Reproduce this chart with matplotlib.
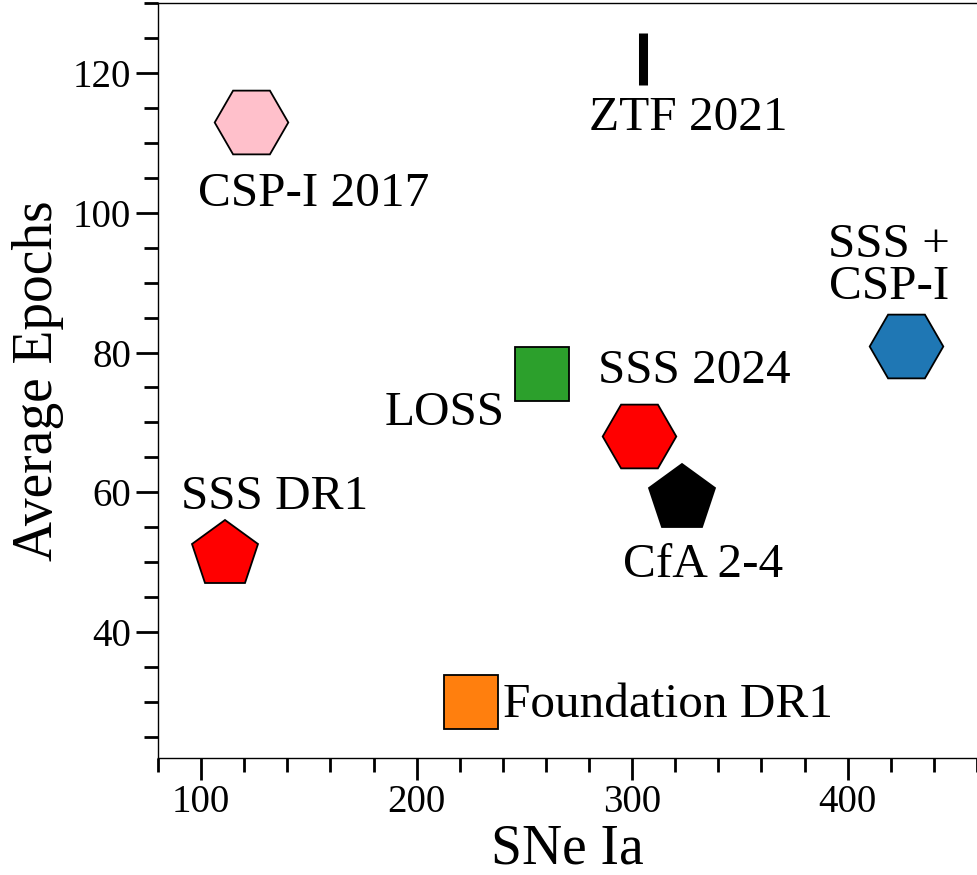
import matplotlib
matplotlib.use("Agg")
import matplotlib.pyplot as plt

plt.rcParams['font.family'] = ['Liberation Serif', 'DejaVu Serif']

# Survey sizes (number of SNe Ia) and average photometric epochs
surveys = ["CSP-I 2017", "ZTF 2021", "SSS +\nCSP-I", "LOSS", "SSS 2024",
           "CfA 2-4", "SSS DR1", "Foundation DR1"]
n_sne = [123, 305, 427, 258, 303, 323, 111, 225]
avg_epochs = [113, 122, 81, 77, 68, 59, 51, 30]

# Marker styling per survey
markers = ["H", "|", "H", "s", "H", "p", "p", "s"]
colors = ["#FFC0CB", "black", "#1F77B4", "#2CA02C", "#FF0000", "black", "#FF0000", "#FF7F0E"]
sizes = [53, 37, 53, 39, 53, 50, 50, 39]

# Label anchor points (data coordinates) and horizontal alignment
label_x = [152, 326, 419, 213, 329, 333, 134, 240]
label_y = [101, 111.9, 87.6, 69.7, 75.7, 47.9, 57.6, 27.9]
label_ha = ["center", "center", "center", "center", "center", "center", "center", "left"]

fig = plt.figure(figsize=(9.77, 8.75), dpi=100)
ax = fig.add_axes([158 / 977, 117 / 875, 1 - 158 / 977, (875 - 117 - 3) / 875])

for x, y, m, c, s in zip(n_sne, avg_epochs, markers, colors, sizes):
    if m == "|":
        ax.plot(x, y, marker=m, color=c, markersize=s, markeredgewidth=6.5, linestyle="none")
    else:
        ax.plot(x, y, marker=m, markerfacecolor=c, markeredgecolor="black",
                markersize=s, markeredgewidth=1.3, linestyle="none")

for name, x, y, ha in zip(surveys, label_x, label_y, label_ha):
    if "\n" in name:
        ax.text(x, y, name, ha=ha, va="baseline", fontsize=35.5, linespacing=0.95,
                multialignment="center")
    else:
        ax.text(x, y, name, ha=ha, va="baseline", fontsize=35.5)

ax.set_xlim(80, 460)
ax.set_ylim(22, 130)
ax.set_xticks([100, 200, 300, 400])
ax.set_xticks(range(80, 461, 20), minor=True)
ax.set_yticks([40, 60, 80, 100, 120])
ax.set_yticks(range(25, 131, 5), minor=True)

ax.tick_params(which="major", length=16, width=2, labelsize=28, direction="out")
ax.tick_params(axis="x", which="major", pad=2.5)
ax.tick_params(which="minor", length=10, width=2, direction="out")
ax.spines["right"].set_visible(False)
for sp in ["left", "bottom", "top"]:
    ax.spines[sp].set_linewidth(1.0)

ax.set_xlabel("SNe Ia", fontsize=40, labelpad=2)
ax.set_ylabel("Average Epochs", fontsize=40, labelpad=6)

fig.savefig("out.png", dpi=100)
